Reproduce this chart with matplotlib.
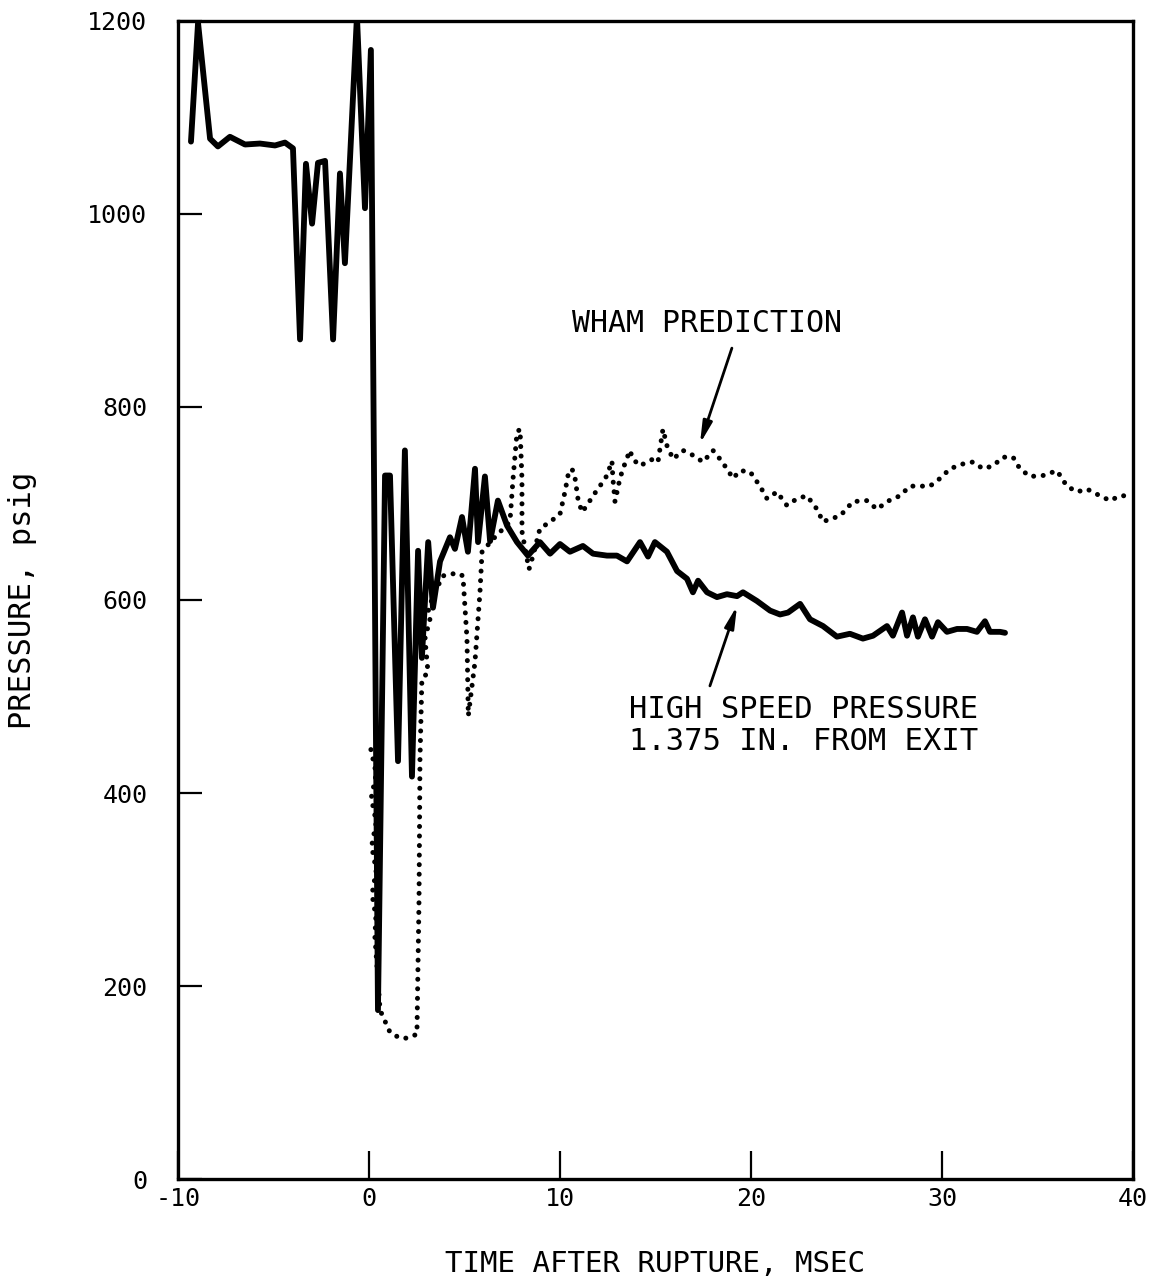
import matplotlib
matplotlib.use('Agg')
import matplotlib.pyplot as plt

# measured pressure trace (1.375 in. from exit)
meas_t = [-9.32, -8.95, -8.32, -7.91, -7.28, -6.49, -5.71, -4.92, -4.40, -3.98,
          -3.61, -3.30, -2.98, -2.67, -2.30, -1.88, -1.52, -1.26, -0.63, -0.21,
          0.10, 0.47, 0.84, 1.10, 1.52, 1.88, 2.25, 2.57, 2.77, 3.10,
          3.35, 3.72, 4.24, 4.50, 4.87, 5.18, 5.55, 5.71, 6.07, 6.34,
          6.75, 7.23, 7.75, 8.32, 8.95, 9.48, 10.0, 10.52, 11.20, 11.73,
          12.46, 12.98, 13.51, 14.19, 14.61, 14.97, 15.60, 16.13, 16.65, 16.96,
          17.23, 17.70, 18.22, 18.74, 19.27, 19.58, 20.31, 21.0, 21.52, 21.94,
          22.57, 23.09, 23.77, 24.50, 25.18, 25.86, 26.39, 27.12, 27.43, 27.91,
          28.17, 28.48, 28.74, 29.11, 29.48, 29.79, 30.26, 30.79, 31.31, 31.83,
          32.25, 32.51, 33.04, 33.30]
meas_p = [1075, 1198, 1078, 1070, 1080, 1072, 1073, 1071, 1074, 1068,
          870, 1052, 990, 1053, 1055, 870, 1042, 949, 1205, 1006,
          1170, 175, 729, 729, 433, 755, 417, 651, 540, 660,
          592, 640, 665, 653, 686, 650, 736, 660, 728, 661,
          703, 677, 660, 646, 660, 648, 658, 650, 656, 648,
          646, 646, 640, 660, 645, 660, 650, 630, 622, 608,
          620, 608, 603, 606, 604, 608, 599, 589, 585, 587,
          596, 580, 573, 562, 565, 560, 563, 573, 563, 587,
          563, 582, 562, 580, 562, 577, 567, 570, 570, 567,
          578, 567, 567, 566]

# WHAM code prediction
wham_t = [0.10, 0.38, 0.12, 0.38, 0.14, 0.38, 0.16, 0.36, 0.31, 0.58,
          1.10, 1.62, 1.99, 2.51, 2.62, 2.67, 2.77, 3.09, 2.93, 3.19,
          3.09, 3.35, 3.87, 4.61, 4.92, 5.13, 5.20, 5.55, 5.81, 5.92,
          6.49, 7.38, 7.54, 7.75, 7.91, 8.01, 8.01, 8.27, 8.38, 8.59,
          8.95, 9.48, 10.0, 10.26, 10.42, 10.63, 10.79, 10.94, 11.15, 11.41,
          11.73, 12.09, 12.46, 12.72, 12.77, 12.88, 13.14, 13.30, 13.66, 13.82,
          14.19, 14.55, 14.87, 15.13, 15.39, 15.60, 15.92, 16.44, 16.96, 17.49,
          18.01, 18.38, 18.74, 19.06, 19.42, 19.95, 20.47, 20.84, 21.36, 21.88,
          22.41, 22.93, 23.46, 23.77, 24.14, 24.66, 25.34, 26.07, 26.60, 27.12,
          27.80, 28.32, 28.85, 29.37, 29.90, 30.42, 31.10, 31.62, 32.15, 32.67,
          33.19, 33.72, 34.08, 34.61, 35.29, 36.02, 36.54, 37.07, 37.59, 38.27,
          38.80, 39.32, 40.0]
wham_p = [445, 420, 395, 370, 345, 320, 295, 272, 251, 175,
          152, 146, 146, 150, 290, 435, 518, 525, 560, 580,
          588, 604, 625, 628, 625, 560, 480, 536, 608, 650,
          663, 681, 725, 774, 777, 725, 671, 643, 632, 646,
          674, 681, 689, 712, 729, 736, 726, 705, 691, 698,
          708, 718, 729, 744, 726, 702, 726, 736, 755, 746,
          739, 743, 746, 743, 777, 760, 746, 755, 750, 743,
          755, 746, 736, 726, 734, 733, 718, 705, 712, 698,
          705, 708, 694, 681, 684, 687, 702, 703, 694, 702,
          708, 718, 718, 718, 726, 736, 741, 743, 736, 739,
          748, 748, 736, 728, 729, 734, 718, 712, 715, 708,
          703, 708, 708]

x_ticks = [-10, 0, 10, 20, 30, 40]
y_ticks = [0, 200, 400, 600, 800, 1000, 1200]

font = 'DejaVu Sans Mono'

fig = plt.figure(figsize=(11.52, 12.87), dpi=100)
ax = fig.add_axes([0.1545, 0.0839, 0.829, 0.8998])

ax.plot(meas_t, meas_p, color='black', lw=4.2, solid_joinstyle='round',
        solid_capstyle='round')
ax.plot(wham_t, wham_p, color='black', lw=3.6, linestyle=(0, (0.01, 1.9)),
        dash_capstyle='round')

ax.set_xlim(-10, 40)
ax.set_ylim(0, 1200)
ax.set_xticks(x_ticks)
ax.set_yticks(y_ticks)
ax.set_xticklabels([str(v) for v in x_ticks], fontsize=18, family=font)
ax.set_yticklabels([str(v) for v in y_ticks], fontsize=18, family=font)
ax.tick_params(axis='x', direction='in', length=20, width=1.6, pad=6)
ax.tick_params(axis='y', direction='in', length=17, width=1.6, pad=22)
for s in ax.spines.values():
    s.set_linewidth(2.4)

ax.set_xlabel('TIME AFTER RUPTURE, MSEC', fontsize=21, family=font, labelpad=28)
ax.set_ylabel('PRESSURE, psig', fontsize=22, family=font, labelpad=36)

ax.text(10.63, 878, 'WHAM PREDICTION', fontsize=21.5, family=font,
        ha='left', va='baseline')
ax.annotate('', xy=(17.33, 762), xytext=(19.0, 861),
            arrowprops=dict(arrowstyle='-|>,head_length=1.3,head_width=0.28',
                            color='black', lw=2, shrinkA=0, shrinkB=0))

ax.text(13.61, 502, 'HIGH SPEED PRESSURE', fontsize=22, family=font,
        ha='left', va='top')
ax.text(13.61, 468, '1.375 IN. FROM EXIT', fontsize=22, family=font,
        ha='left', va='top')
ax.annotate('', xy=(19.27, 594), xytext=(17.85, 511),
            arrowprops=dict(arrowstyle='-|>,head_length=1.3,head_width=0.28',
                            color='black', lw=2, shrinkA=0, shrinkB=0))

fig.savefig('out.png', dpi=100)
